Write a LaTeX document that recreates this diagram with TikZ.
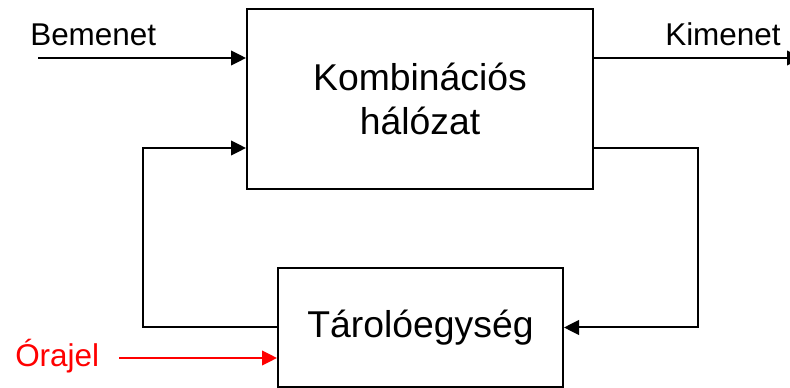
\documentclass[tikz,border=0pt]{standalone}
\usepackage{fontspec}
\setmainfont{Liberation Sans}
\usetikzlibrary{arrows.meta}

\tikzset{
  blokk/.style={draw, line width=1.5pt, inner sep=0pt, align=center, font=\fontsize{28}{33}\selectfont},
  felirat/.style={anchor=base west, inner sep=0pt, font=\fontsize{23.6}{28}\selectfont},
  nyil/.style={line width=1.5pt, -{Triangle[length=11.25pt,width=11pt]}},
  vonal/.style={line width=1.5pt}
}

\begin{document}
\begin{tikzpicture}[x=0.75pt,y=0.75pt,yscale=-1,xscale=1]
\useasboundingbox (0,0) rectangle (790,388);

% Blocks
\node [blokk, minimum width=259.5pt, minimum height=135pt] (komb) at (420,99) {Kombinációs\\hálózat};
\node [blokk, minimum width=213.75pt, minimum height=89.25pt] (tar) at (420.5,327.5) {Tárolóegység};

% Free ends and corners
\coordinate (be) at (38,58);
\coordinate (ki) at (802,58);
\coordinate (fbL) at (143,148);
\coordinate (fbR) at (698,148);
\coordinate (ora) at (119,358);

% Text Node
\node [felirat] (bemenet) at (30,46) {Bemenet};
% Text Node
\node [felirat] (kimenet) at (665,46) {Kimenet};
% Text Node
\node [felirat, text=red] (orajel) at (15,367) {Órajel};

% Input / output
\draw [nyil] (be) -- (be -| komb.west);
\draw [nyil] (ki -| komb.east) -- (ki);

% Feedback loop
\draw [nyil] (fbR -| komb.east) -- (fbR) |- (tar.east);
\draw [nyil] (tar.west) -| (fbL) -- (fbL -| komb.west);

% Clock
\draw [nyil, red] (ora) -- (ora -| tar.west);

\end{tikzpicture}
\end{document}
